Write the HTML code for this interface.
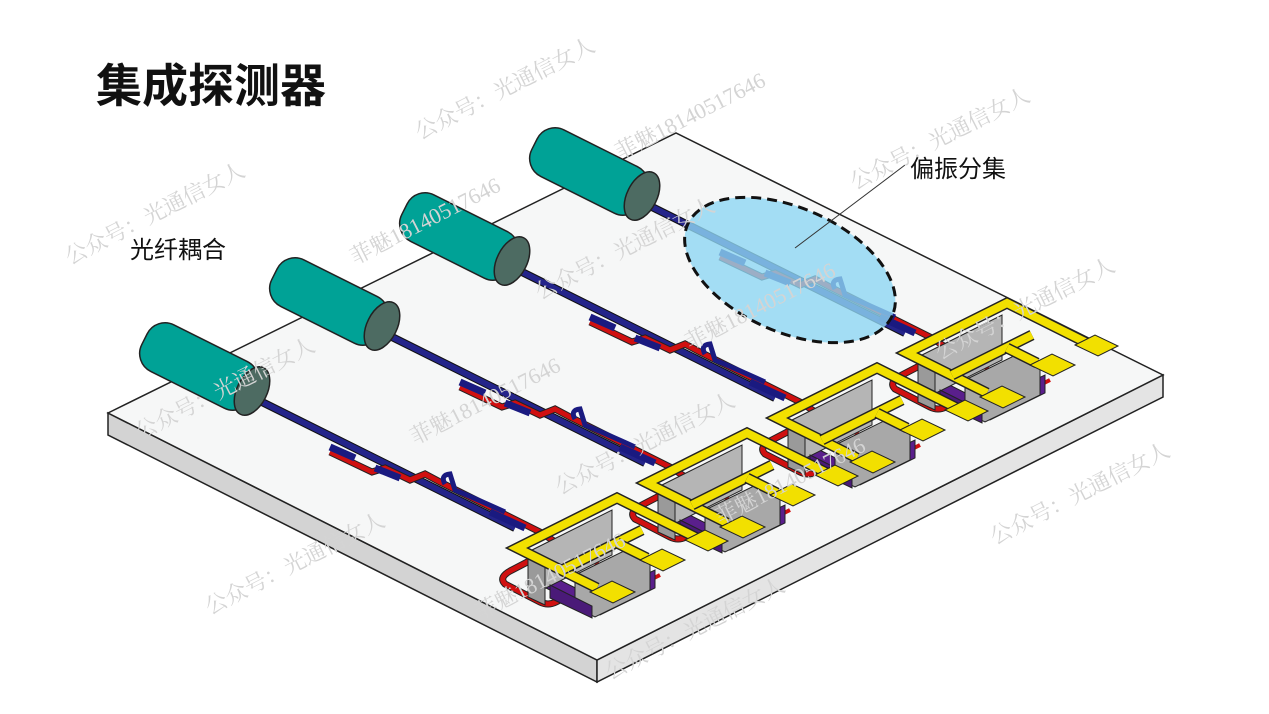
<!DOCTYPE html>
<html><head><meta charset="utf-8"><style>
html,body{margin:0;padding:0;background:#fff;}
svg{display:block}
.wm{font-family:"Liberation Serif","Noto Serif CJK SC",serif;font-size:22px;fill:#d4d4d4;}
</style></head><body>
<svg width="1269" height="714" viewBox="0 0 1269 714" xmlns="http://www.w3.org/2000/svg">
<defs>
<g id="row">
  <polyline points="258,400 515,528" fill="none" stroke="#111" stroke-width="8"/>
  <polyline points="258,400 515,528" fill="none" stroke="#24248a" stroke-width="6"/>
  <polyline points="330,452 372,472 385,468 410,480 425,474 440,482 540,532 560,545" fill="none" stroke="#222" stroke-width="7"/>
  <polyline points="330,452 372,472 385,468 410,480 425,474 440,482 540,532 560,545" fill="none" stroke="#d01010" stroke-width="5"/>
  <polyline points="330,447 355,458" fill="none" stroke="#1a1a80" stroke-width="7"/>
  <polyline points="375,468 400,478" fill="none" stroke="#1a1a80" stroke-width="7"/>
  <path d="M445,484 Q440,475 450,474 L455,490 Q490,505 505,512" fill="none" stroke="#1a1a80" stroke-width="5"/>
  <polyline points="490,512 525,528" fill="none" stroke="#1a1a80" stroke-width="7"/>
  <path d="M560,545 L512,570 Q498,577 505,584 L540,602 Q548,606 556,602 L580,590" fill="none" stroke="#222" stroke-width="7"/>
  <path d="M560,545 L512,570 Q498,577 505,584 L540,602 Q548,606 556,602 L580,590" fill="none" stroke="#d01010" stroke-width="5"/>
  <polyline points="560,545 640,585 660,575" fill="none" stroke="#d01010" stroke-width="4"/>
  <polygon points="540,585 600,615 655,588 655,570 595,598 540,570" fill="#5a1f8c" stroke="#222" stroke-width="1"/>
  <polygon points="528,552 612,510 612,555 528,597" fill="#b5b5b5" stroke="#222" stroke-width="1"/>
  <polygon points="528,552 545,560 545,605 528,597" fill="#9a9a9a" stroke="#222" stroke-width="1"/>
  <polygon points="575,575 630,548 650,558 650,590 595,617 575,607" fill="#a8a8a8" stroke="#222" stroke-width="1"/>
  <polygon points="550,585 592,606 592,618 550,598" fill="#4a1a78" stroke="#222" stroke-width="1"/>
  <g fill="none" stroke-linejoin="miter">
    <polyline points="597,588 517,548 617,498 697,538" stroke="#222" stroke-width="11"/>
    <polyline points="597,588 517,548 617,498 697,538" stroke="#f2e000" stroke-width="8"/>
    <polyline points="562,570 642,530" stroke="#222" stroke-width="11"/>
    <polyline points="562,570 642,530" stroke="#f2e000" stroke-width="8"/>
    <polyline points="617,543 647,558" stroke="#222" stroke-width="11"/>
    <polyline points="617,543 647,558" stroke="#f2e000" stroke-width="8"/>
  </g>
  <polygon points="590,592 612,581 635,592 613,603" fill="#f2e000" stroke="#222" stroke-width="1"/>
  <polygon points="640,560 662,549 685,560 663,571" fill="#f2e000" stroke="#222" stroke-width="1"/>
  <polygon points="685,540 705,530 728,541 708,551" fill="#f2e000" stroke="#222" stroke-width="1"/>
  <g transform="translate(250,392) rotate(26.57)">
    <rect x="-118" y="-26" width="122" height="52" rx="20" fill="#00a296" stroke="#222" stroke-width="1.5"/>
  </g>
  <ellipse cx="252" cy="391" rx="15" ry="26" transform="rotate(26.57 252 391)" fill="#4d6b62" stroke="#222" stroke-width="1.5"/>
</g>
</defs>
<polygon points="108,413 597,660 597,682 108,435" fill="#d3d3d3" stroke="#222" stroke-width="1.5"/>
<polygon points="597,660 1163,375 1163,397 597,682" fill="#e4e4e4" stroke="#222" stroke-width="1.5"/>
<polygon points="108,413 676,133 1163,375 597,660" fill="#f6f7f7" stroke="#222" stroke-width="1.5"/>
<use href="#row" transform="translate(390,-195)"/>
<use href="#row" transform="translate(260,-130)"/>
<use href="#row" transform="translate(130,-65)"/>
<use href="#row"/>
<ellipse cx="790" cy="270" rx="112" ry="62" transform="rotate(24 790 270)" fill="#8fd6f3" fill-opacity="0.8" stroke="#111" stroke-width="3" stroke-dasharray="10,6"/>
<line x1="795" y1="248" x2="905" y2="165" stroke="#333" stroke-width="1"/>
<text x="96" y="102" font-family="Liberation Sans,'Noto Sans CJK SC',sans-serif" font-weight="bold" font-size="46" fill="#111">集成探测器</text>
<text x="130" y="258" font-family="Liberation Sans,'Noto Sans CJK SC',sans-serif" font-size="24" fill="#111">光纤耦合</text>
<text x="910" y="177" font-family="Liberation Sans,'Noto Sans CJK SC',sans-serif" font-size="24" fill="#111">偏振分集</text>
<g class="wm">
<text transform="translate(420,140) rotate(-27)">公众号：光通信女人</text>
<text transform="translate(620,160) rotate(-27)">菲魅18140517646</text>
<text transform="translate(70,265) rotate(-27)">公众号：光通信女人</text>
<text transform="translate(355,265) rotate(-27)">菲魅18140517646</text>
<text transform="translate(540,300) rotate(-27)">公众号：光通信女人</text>
<text transform="translate(855,190) rotate(-27)">公众号：光通信女人</text>
<text transform="translate(690,350) rotate(-27)">菲魅18140517646</text>
<text transform="translate(140,440) rotate(-27)">公众号：光通信女人</text>
<text transform="translate(415,445) rotate(-27)">菲魅18140517646</text>
<text transform="translate(560,495) rotate(-27)">公众号：光通信女人</text>
<text transform="translate(940,360) rotate(-27)">公众号：光通信女人</text>
<text transform="translate(720,525) rotate(-27)">菲魅18140517646</text>
<text transform="translate(210,615) rotate(-27)">公众号：光通信女人</text>
<text transform="translate(480,620) rotate(-27)">菲魅18140517646</text>
<text transform="translate(995,545) rotate(-27)">公众号：光通信女人</text>
<text transform="translate(610,680) rotate(-27)">公众号：光通信女人</text>
</g>
</svg>
</body></html>
